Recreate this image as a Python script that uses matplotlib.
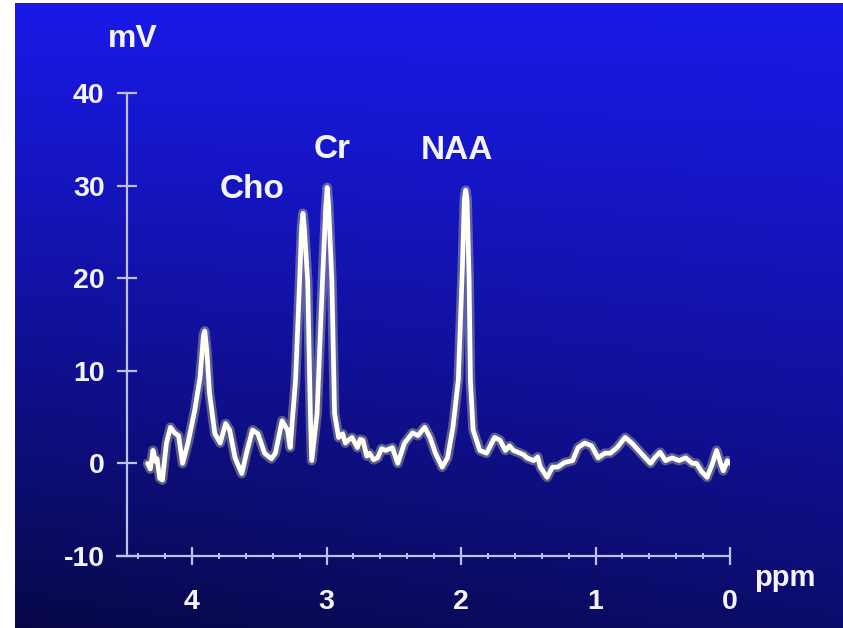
import matplotlib
matplotlib.use("Agg")
import matplotlib.pyplot as plt
import numpy as np

plt.rcParams["axes.unicode_minus"] = False

# spectrum trace (ppm, mV)
ppm = [4.33, 4.31, 4.29, 4.27, 4.26, 4.24, 4.22, 4.19, 4.16, 4.13,
       4.10, 4.07, 4.03, 3.98, 3.94, 3.915, 3.905, 3.89, 3.87, 3.83,
       3.79, 3.75, 3.72, 3.68, 3.63, 3.59, 3.55, 3.51, 3.46, 3.41,
       3.38, 3.33, 3.29, 3.27, 3.23, 3.20, 3.185, 3.175, 3.165, 3.14,
       3.12, 3.11, 3.07, 3.03, 3.005, 2.995, 2.985, 2.96, 2.94, 2.91,
       2.88, 2.86, 2.83, 2.81, 2.77, 2.75, 2.73, 2.70, 2.68, 2.65,
       2.62, 2.59, 2.56, 2.51, 2.47, 2.42, 2.36, 2.32, 2.27, 2.23,
       2.19, 2.14, 2.10, 2.06, 2.02, 1.99, 1.975, 1.965, 1.955, 1.94,
       1.93, 1.91, 1.86, 1.81, 1.75, 1.71, 1.67, 1.64, 1.61, 1.56,
       1.53, 1.51, 1.46, 1.43, 1.41, 1.36, 1.32, 1.28, 1.23, 1.17,
       1.13, 1.08, 1.03, 0.98, 0.93, 0.89, 0.84, 0.78, 0.73, 0.68,
       0.63, 0.59, 0.56, 0.52, 0.48, 0.43, 0.38, 0.33, 0.28, 0.25,
       0.21, 0.17, 0.13, 0.10, 0.07, 0.05, 0.02, 0.0]
mv = [0.0, -0.6, 1.4, 0.2, 0.5, -1.6, -1.8, 2.2, 3.9, 3.3,
      3.0, 0.0, 2.2, 5.7, 9.3, 13.8, 14.3, 12.2, 7.6, 3.2,
      2.2, 4.3, 3.6, 0.6, -1.1, 1.4, 3.6, 3.2, 1.1, 0.5,
      1.1, 4.6, 3.6, 1.7, 9.0, 19.7, 25.5, 27.0, 25.5, 19.7,
      5.4, 0.3, 5.4, 19.7, 27.8, 29.8, 28.0, 19.7, 5.4, 2.8,
      3.2, 2.2, 2.6, 2.8, 1.7, 2.6, 2.5, 0.8, 1.1, 0.4,
      0.6, 1.6, 1.4, 1.7, 0.0, 2.2, 3.3, 3.0, 3.9, 2.8,
      1.1, -0.4, 0.6, 3.9, 9.0, 21.0, 28.5, 29.5, 28.5, 20.0,
      9.0, 3.6, 1.4, 1.1, 2.8, 2.5, 1.4, 1.9, 1.4, 1.1,
      0.9, 0.6, 0.3, 0.7, -0.4, -1.5, -0.4, -0.4, 0.1, 0.3,
      1.7, 2.2, 1.9, 0.6, 1.1, 1.1, 1.7, 2.8, 2.2, 1.4,
      0.6, 0.0, 0.6, 1.2, 0.3, 0.6, 0.3, 0.6, 0.0, 0.0,
      -0.9, -1.5, 0.0, 1.4, 0.0, -0.8, 0.3, 0.0]

peak_labels = ["Cho", "Cr", "NAA"]
peak_label_pos = [(3.55, 29.6), (2.96, 33.9), (2.03, 33.8)]
x_ticks = [4, 3, 2, 1, 0]
y_ticks = [-10, 0, 10, 20, 30, 40]

FONT = "Liberation Sans"
AXIS_COL = "#c0c0ee"
TEXT_COL = "#f4f4ff"

fig = plt.figure(figsize=(8.43, 6.28), dpi=100, facecolor="white")

# --- blue screen background (slide photo) ----------------------------- #
bg = fig.add_axes([15 / 843, 0, 1 - 15 / 843, 1 - 3 / 628], zorder=-1)
h, w = 300, 400
yy, xx = np.mgrid[0:1:h * 1j, 0:1:w * 1j]
blue = 232 - 125 * yy ** 1.1 - 35 * (1 - xx) * yy
img = np.dstack([blue * 0.11, blue * 0.11, blue]) / 255.0
bg.imshow(np.clip(img, 0, 1), aspect="auto", extent=[0, 1, 0, 1])
bg.set_axis_off()

# --- main axes ------------------------------------------------------------ #
left = (730 - 4.56 * 134.5) / 843
ax = fig.add_axes([left, 72 / 628, (4.56 * 134.5) / 843, 463 / 628])
ax.patch.set_alpha(0)
ax.set_xlim(4.56, 0)
ax.set_ylim(-10, 40)

for s in ("top", "right"):
    ax.spines[s].set_visible(False)
ax.spines["left"].set_position(("data", 4.48))
for s in ("left", "bottom"):
    ax.spines[s].set_color(AXIS_COL)
    ax.spines[s].set_linewidth(1.6)

ax.set_xticks(x_ticks)
ax.set_xticks(np.arange(0, 4.5, 0.2), minor=True)
ax.set_yticks(y_ticks)
ax.tick_params(axis="x", which="major", direction="inout", length=13,
               width=1.6, color=AXIS_COL, pad=17)
ax.tick_params(axis="x", which="minor", direction="inout", length=5,
               width=1.4, color=AXIS_COL)
ax.tick_params(axis="y", direction="inout", length=15, width=1.6,
               color=AXIS_COL, pad=9)
for lab in ax.get_xticklabels() + ax.get_yticklabels():
    lab.set_fontfamily(FONT)
    lab.set_fontweight("bold")
    lab.set_fontsize(20.5)
    lab.set_color(TEXT_COL)

# trace with a soft phosphor glow
ax.plot(ppm, mv, color="#e8f0a8", lw=7, alpha=0.35,
        solid_joinstyle="round", solid_capstyle="round")
ax.plot(ppm, mv, color="#fffff4", lw=3.4,
        solid_joinstyle="round", solid_capstyle="round")

txt = dict(family=FONT, weight="bold", color=TEXT_COL, ha="center",
           va="center", clip_on=False)
for name, (px, py) in zip(peak_labels, peak_label_pos):
    ax.text(px, py, name, fontsize=24, **txt)
ax.text(4.44, 45.8, "mV", fontsize=23, **txt)
ax.text(-0.41, -12.4, "ppm", fontsize=21, **txt)

fig.savefig("out.png", dpi=100)
